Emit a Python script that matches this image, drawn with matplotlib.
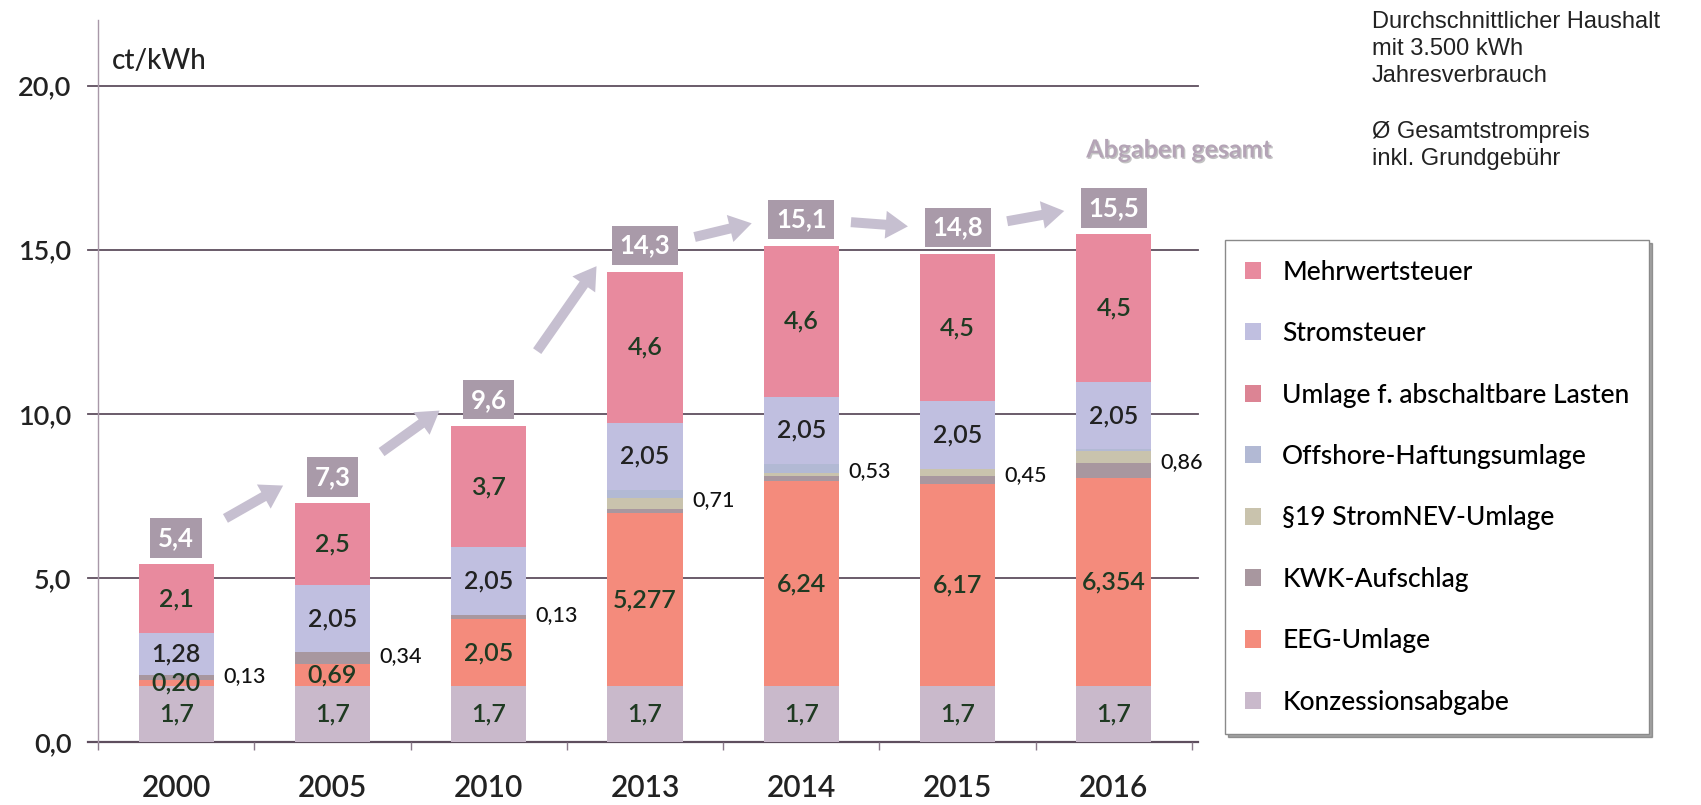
import numpy as np
import matplotlib
matplotlib.use('Agg')
import matplotlib.pyplot as plt
from matplotlib.patches import Patch, FancyArrowPatch
import matplotlib.patheffects as pe

plt.rcParams['font.family'] = ['Lato', 'DejaVu Sans']

years = ['2000', '2005', '2010', '2013', '2014', '2015', '2016']

# ct/kWh, stacked bottom -> top
konzession = [1.7, 1.7, 1.7, 1.7, 1.7, 1.7, 1.7]
eeg = [0.20, 0.69, 2.05, 5.277, 6.24, 6.17, 6.354]
kwk = [0.13, 0.34, 0.13, 0.126, 0.178, 0.25, 0.445]
stromnev = [0.0, 0.0, 0.0, 0.329, 0.092, 0.20, 0.378]
offshore = [0.0, 0.0, 0.0, 0.25, 0.25, 0.0, 0.04]
abschalt = [0.0, 0.0, 0.0, 0.0, 0.009, 0.006, 0.0]
stromsteuer = [1.28, 2.05, 2.05, 2.05, 2.05, 2.05, 2.05]
mwst = [2.1, 2.5, 3.7, 4.6, 4.6, 4.5, 4.5]

konz_labels = ['1,7', '1,7', '1,7', '1,7', '1,7', '1,7', '1,7']
eeg_labels = ['0,20', '0,69', '2,05', '5,277', '6,24', '6,17', '6,354']
st_labels = ['1,28', '2,05', '2,05', '2,05', '2,05', '2,05', '2,05']
mwst_labels = ['2,1', '2,5', '3,7', '4,6', '4,6', '4,5', '4,5']
small_labels = ['0,13', '0,34', '0,13', '0,71', '0,53', '0,45', '0,86']
total_labels = ['5,4', '7,3', '9,6', '14,3', '15,1', '14,8', '15,5']

series = [
    ('Konzessionsabgabe', konzession, '#c9b9cb'),
    ('EEG-Umlage', eeg, '#f48b7c'),
    ('KWK-Aufschlag', kwk, '#a8979f'),
    ('§19 StromNEV-Umlage', stromnev, '#c9c3ad'),
    ('Offshore-Haftungsumlage', offshore, '#b2b9d4'),
    ('Umlage f. abschaltbare Lasten', abschalt, '#dc8494'),
    ('Stromsteuer', stromsteuer, '#c0bfe0'),
    ('Mehrwertsteuer', mwst, '#e88a9e'),
]

W, H = 1701, 805
fig = plt.figure(figsize=(W / 100, H / 100), dpi=100)
ax = fig.add_axes([98 / W, 1 - 742 / H, (1192 - 98) / W, (742 - 20) / H])

x = np.arange(len(years))
bw = 0.48
bottom = np.zeros(len(years))
bases = {}
for name, vals, col in series:
    vals = np.array(vals)
    bases[name] = bottom.copy()
    ax.bar(x, vals, bw, bottom=bottom, color=col, edgecolor='none', zorder=2)
    bottom = bottom + vals
tops = bottom

txt_col = '#1f3a22'
fs_in = 18
fw_in = 'semibold'
for i in range(len(years)):
    ax.text(i, konzession[i] / 2, konz_labels[i], ha='center', va='center', fontsize=fs_in, fontweight=fw_in, color=txt_col, zorder=3)
    ax.text(i, bases['EEG-Umlage'][i] + eeg[i] / 2, eeg_labels[i], ha='center', va='center', fontsize=fs_in, fontweight=fw_in, color=txt_col, zorder=3)
    ax.text(i, bases['Stromsteuer'][i] + stromsteuer[i] / 2, st_labels[i], ha='center', va='center', fontsize=fs_in, fontweight=fw_in, color='#222222', zorder=3)
    ax.text(i, bases['Mehrwertsteuer'][i] + mwst[i] / 2, mwst_labels[i], ha='center', va='center', fontsize=fs_in, fontweight=fw_in, color=txt_col, zorder=3)
    lo = bases['KWK-Aufschlag'][i]
    hi = bases['Stromsteuer'][i]
    ax.text(i + bw / 2 + 0.06, (lo + hi) / 2 + 0.05, small_labels[i], ha='left', va='center', fontsize=15.5, fontweight='medium', color='#111111', zorder=3)

# total boxes
box_y = tops + 0.8
for i in range(len(years)):
    ax.text(i, box_y[i], total_labels[i], ha='center', va='center', fontsize=18.5, color='white',
            fontweight='bold', zorder=4,
            bbox=dict(boxstyle='square,pad=0.3', fc='#a99aa9', ec='none'))

# arrows between boxes
for i in range(len(years) - 1):
    d = box_y[i + 1] - box_y[i]
    tail = (i + 0.3, box_y[i] + 0.3 * d)
    head = (i + 0.7, box_y[i] + 0.88 * d)
    arr = FancyArrowPatch(tail, head, arrowstyle='simple,head_length=1.6,head_width=2.0,tail_width=0.72',
                          mutation_scale=10, color='#c6bfd0', lw=0, zorder=3)
    ax.add_patch(arr)

# grid lines (extend slightly beyond the axis)
for yv in [0, 5, 10, 15, 20]:
    ax.axhline(yv, xmin=-0.009, xmax=1.0055, color='#5e4e5e', lw=1.3 if yv else 1.6, zorder=1, clip_on=False)

ax.set_xlim(-0.5, len(years) - 0.5)
ax.set_ylim(0, 22.0)
for s in ['top', 'right', 'bottom']:
    ax.spines[s].set_visible(False)
ax.spines['left'].set_color('#a898a8')
ax.spines['left'].set_linewidth(1.0)

ax.set_yticks([0, 5, 10, 15, 20])
ax.set_yticklabels(['0,0', '5,0', '10,0', '15,0', '20,0'])
ax.tick_params(axis='y', length=0, pad=19, labelsize=19.5, labelcolor='#222222')
ax.set_xticks(x)
ax.set_xticklabels(years)
ax.tick_params(axis='x', which='major', length=0, pad=23, labelsize=21.5, labelcolor='#222222')
ax.set_xticks(np.arange(-0.5, len(years), 1.0), minor=True)
ax.tick_params(axis='x', which='minor', length=6, width=1, color='#8a7a8a', direction='out')
for lab in ax.get_xticklabels() + ax.get_yticklabels():
    lab.set_fontweight('semibold')

fig.text(112 / W, 1 - 61 / H, 'ct/kWh', ha='left', va='center', fontsize=20, fontweight='medium', color='#222222')

fig.text(1179 / W, 1 - 150 / H, 'Abgaben gesamt', ha='center', va='center', fontsize=18,
         fontweight='bold', color='#b4a4b6',
         path_effects=[pe.withSimplePatchShadow(offset=(1, -1), shadow_rgbFace='#555555', alpha=0.35)])

fig.text(1372 / W, 1 - 11 / H, 'Durchschnittlicher Haushalt\nmit 3.500 kWh\nJahresverbrauch',
         ha='left', va='top', fontsize=17, linespacing=1.3, family=['Liberation Sans', 'DejaVu Sans'], color='#222222')
fig.text(1372 / W, 1 - 121 / H, 'Ø Gesamtstrompreis\ninkl. Grundgebühr',
         ha='left', va='top', fontsize=17, linespacing=1.3, family=['Liberation Sans', 'DejaVu Sans'], color='#222222')

handles = [Patch(facecolor=col, edgecolor='none', label=name) for name, vals, col in series[::-1]]
leg = fig.legend(handles=handles, loc='upper left', bbox_to_anchor=(1225 / W, 1 - 240 / H),
                 frameon=True, fancybox=False, shadow=True, edgecolor='#8a8a8a',
                 prop={'size': 19, 'weight': 'medium'},
                 handlelength=0.62, handleheight=0.62, handletextpad=0.8, labelspacing=1.38,
                 borderpad=0.75, borderaxespad=0)
leg.get_frame().set_linewidth(1.0)

fig.savefig('out.png', dpi=100)
